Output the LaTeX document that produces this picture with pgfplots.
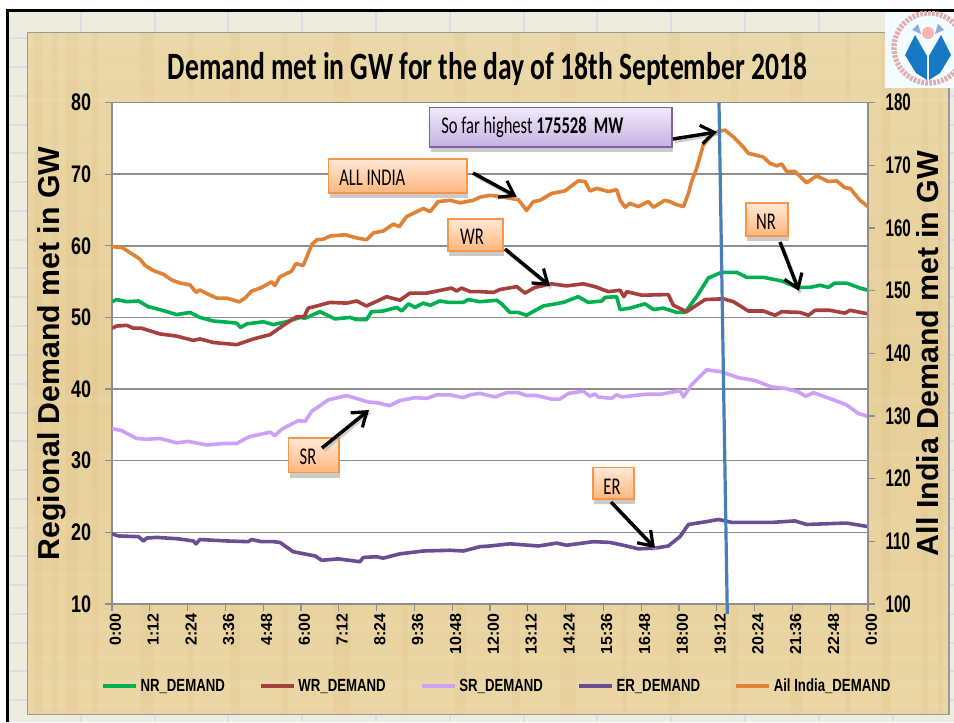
\documentclass[border=0pt]{standalone}
\usepackage{pgfplots}
\pgfplotsset{compat=1.18}
\usepackage{fontspec}
\usetikzlibrary{arrows.meta}
\setmainfont{Liberation Sans}
\newfontfamily\nb[FakeStretch=0.75]{Liberation Sans}
\newfontfamily\nbr[FakeStretch=0.63]{Liberation Sans}
\newfontfamily\cb[FakeStretch=0.714]{Carlito}
\newfontfamily\cc[FakeStretch=0.69]{Carlito}
\definecolor{parch}{HTML}{E8D29C}
\definecolor{sheet}{HTML}{EEEBDF}
\definecolor{sheetline}{HTML}{DCDDE6}
\definecolor{axgray}{HTML}{8E8E8E}
\definecolor{cNR}{HTML}{00B050}
\definecolor{cWR}{HTML}{A5403D}
\definecolor{cSR}{HTML}{CBA0F8}
\definecolor{cER}{HTML}{6A4E94}
\definecolor{cIN}{HTML}{DF8235}
\definecolor{oTop}{HTML}{FFE8D6}
\definecolor{oBot}{HTML}{FFB67C}
\definecolor{oEdge}{HTML}{F79646}
\definecolor{pTop}{HTML}{F1EAFA}
\definecolor{pBot}{HTML}{C6B0E2}
\definecolor{pEdge}{HTML}{8064A2}
\definecolor{vline}{HTML}{4A7EBB}
\pgfplotstableread{
h v
0 52.2
.15 52.5
.47 52.2
.84 52.3
1.15 51.5
1.52 51.1
2.05 50.4
2.48 50.7
2.79 50.0
3.22 49.5
3.75 49.3
3.96 49.2
4.08 48.6
4.28 49.1
4.80 49.4
5.12 49.0
5.54 49.4
5.97 50.0
6.13 49.9
6.60 50.8
7.08 49.8
7.56 50.0
7.77 49.7
8.08 49.7
8.24 50.8
8.61 50.9
9.04 51.4
9.20 50.9
9.41 51.9
9.62 51.4
9.88 52.0
10.10 51.7
10.41 52.3
10.68 52.1
11.15 52.1
11.31 52.5
11.68 52.2
12.21 52.4
12.37 51.9
12.63 50.7
12.90 50.7
13.16 50.3
13.69 51.6
14.33 52.1
14.80 52.9
15.12 52.1
15.55 52.3
15.65 52.8
16.02 52.9
16.13 51.1
16.44 51.3
16.92 51.9
17.19 51.1
17.50 51.3
17.93 50.7
18.19 50.7
18.56 52.9
18.93 55.5
19.35 56.3
19.83 56.3
20.15 55.6
20.68 55.6
21.26 55.1
21.74 54.2
22.16 54.2
22.48 54.5
22.74 54.2
22.95 54.8
23.32 54.8
23.75 54.1
24 53.8
}\tNR
\pgfplotstableread{
h v
0 48.5
.15 48.8
.47 48.9
.68 48.5
.94 48.5
1.52 47.7
2.05 47.4
2.58 46.8
2.79 47.0
3.22 46.5
3.96 46.2
4.49 47.0
5.02 47.6
5.44 48.9
5.86 50.1
6.10 50.1
6.23 51.3
6.50 51.6
6.92 52.1
7.45 52.0
7.77 52.3
8.08 51.6
8.72 52.9
9.14 52.4
9.46 53.4
9.99 53.4
10.78 54.1
10.94 53.7
11.10 54.1
11.37 53.6
11.68 53.6
12.11 53.5
12.32 53.9
12.85 54.3
13.11 53.4
13.43 54.2
13.96 54.7
14.43 54.4
14.96 54.7
15.33 54.3
15.76 53.6
16.13 53.8
16.25 52.9
16.34 53.6
16.82 53.1
17.66 53.2
17.82 51.7
18.24 50.8
18.83 52.5
19.41 52.6
19.73 52.2
20.20 50.9
20.68 50.9
21.05 50.3
21.26 50.8
21.84 50.7
22.11 50.3
22.32 51.0
22.79 51.0
23.27 50.6
23.43 51.0
24 50.5
}\tWR
\pgfplotstableread{
h v
0 34.5
.31 34.2
.78 33.1
1.10 33.0
1.52 33.1
2.05 32.5
2.42 32.7
3.0 32.2
3.53 32.4
3.96 32.4
4.33 33.3
5.02 34.0
5.17 33.5
5.39 34.4
5.91 35.6
6.13 35.5
6.34 36.9
6.87 38.5
7.45 39.1
8.13 38.2
8.40 38.1
8.82 37.7
9.14 38.4
9.62 38.8
9.99 38.7
10.31 39.2
10.73 39.2
11.15 38.8
11.37 39.2
11.68 39.4
12.16 38.9
12.53 39.5
12.90 39.5
13.16 39.1
13.48 39.1
13.96 38.6
14.22 38.6
14.49 39.4
14.96 39.7
15.17 39.0
15.33 39.3
15.44 38.9
15.86 38.7
16.02 39.2
16.18 38.9
16.98 39.3
17.45 39.3
18.03 39.8
18.14 38.9
18.40 40.6
18.88 42.7
19.35 42.4
19.88 41.6
20.41 41.2
20.94 40.3
21.37 40.1
21.79 39.6
22.03 39.0
22.27 39.5
22.90 38.5
23.32 37.8
23.69 36.6
24 36.2
}\tSR
\pgfplotstableread{
h v
0 19.8
.2 19.5
.84 19.4
1.0 18.8
1.10 19.2
1.42 19.3
2.1 19.1
2.58 18.8
2.67 18.4
2.79 19.0
3.64 18.8
4.33 18.7
4.43 19.0
4.75 18.7
5.12 18.7
5.33 18.6
5.75 17.3
6.45 16.7
6.66 16.1
7.19 16.3
7.87 15.9
7.98 16.5
8.40 16.6
8.61 16.4
9.14 17.0
9.88 17.4
10.73 17.5
11.15 17.4
11.68 18.0
12.0 18.1
12.63 18.4
13.54 18.1
14.12 18.5
14.43 18.2
15.28 18.7
15.81 18.6
16.23 18.2
16.71 17.7
17.24 17.8
17.66 18.1
18.03 19.4
18.30 21.1
18.88 21.5
19.25 21.8
19.67 21.4
20.99 21.4
21.68 21.6
22.05 21.1
22.68 21.2
23.32 21.3
24 20.8
}\tER
\pgfplotstableread{
h v
0 157.0
.31 156.9
.62 155.9
.89 155.0
1.05 154.0
1.31 153.2
1.63 152.6
1.89 151.7
2.16 151.2
2.48 150.9
2.67 149.7
2.79 150.1
3.06 149.4
3.32 148.8
3.64 148.8
4.04 148.2
4.22 148.8
4.43 149.9
4.75 150.5
5.07 151.4
5.17 150.8
5.33 152.2
5.70 153.1
5.84 154.3
6.07 154.0
6.34 157.3
6.50 158.1
6.71 158.2
6.92 158.7
7.40 158.9
7.77 158.4
8.08 158.1
8.30 159.2
8.61 159.5
8.93 160.6
9.12 160.2
9.35 161.8
9.88 163.1
10.10 162.6
10.36 164.2
10.73 164.4
11.05 164.0
11.47 164.4
11.68 164.9
12.00 165.2
12.32 165.0
12.90 164.5
13.16 162.8
13.38 164.2
13.59 164.4
13.96 165.5
14.38 165.9
14.80 167.5
15.02 167.4
15.17 165.9
15.39 166.3
15.76 165.8
16.02 166.1
16.13 164.4
16.29 163.3
16.44 163.9
16.71 163.4
17.02 164.2
17.19 163.3
17.55 164.4
17.71 164.2
17.87 163.8
18.14 163.4
18.30 165.5
18.40 167.4
18.56 169.5
18.77 173.2
19.04 174.8
19.25 175.4
19.46 175.6
19.73 174.5
20.04 172.9
20.20 171.9
20.68 171.3
20.89 170.3
21.10 169.9
21.26 170.2
21.42 169.0
21.68 169.0
22.05 167.2
22.37 168.3
22.74 167.4
23.01 167.5
23.27 166.4
23.43 166.3
23.75 164.4
24 163.4
}\tIN
\newcommand{\callout}[6]{%
  \fill[gray!55,opacity=.75] (#1+1,#2+6) rectangle (#3+1,#4+5.5);
  \shade[top color=#5,bottom color=#6,draw=\edgecol,line width=.9pt] (#1,#2) rectangle (#3,#4);
}
\newcommand{\arr}[4]{%
  \draw[gray!60,opacity=.6,line width=2.6pt] (#1+2,#2+2.5) -- (#3+1,#4+2);
  \draw[black,line width=2.6pt,-{Straight Barb[length=10pt,width=14pt,line width=2.4pt]}] (#1,#2) -- (#3,#4);
}
\begin{document}
\begin{tikzpicture}
\begin{scope}[x=.75pt,y=-.75pt,yshift=541.5pt]
\path[use as bounding box] (0,0) rectangle (954,722);
\fill[white] (0,0) rectangle (954,722);
\fill[sheet] (8,12) rectangle (954,722);
\foreach \gx in {81,155,228,302,376,450,524,597,671,745,819,893}
  \draw[sheetline,line width=1pt] (\gx,12) -- (\gx,722);
\foreach \gy in {38,67,96,125,153,182,211,240,268,297,326,355,384,413,441,470,499,528,556,585,614,643,671,700}
  \draw[sheetline,line width=1pt] (8,\gy) -- (954,\gy);
\draw[black,line width=2.2pt] (7.5,722) -- (7.5,10.5) -- (954,10.5);
\shade[top color=parch!88!white,bottom color=parch!92!white,middle color=parch!96!brown] (27.5,32.5) rectangle (949,714.5);
% parchment streaks
\foreach \sx/\sw in {34/9,52/5,66/12,92/6,140/14,188/5,230/10,281/7,333/18,402/6,455/11,512/8,560/16,622/5,668/12,731/7,790/13,845/6,881/10,921/7,938/5}
  \fill[brown!70!orange,opacity=.05] (\sx,32.5) rectangle (\sx+\sw,714.5);
\foreach \sy/\sw in {41/6,70/11,98/4,145/9,210/7,268/12,330/5,395/10,452/6,517/13,573/5,622/9,655/6,681/8,703/5}
  \fill[white,opacity=.05] (27.5,\sy) rectangle (949,\sy+\sw);
\draw[axgray!90,line width=.9pt] (27.5,32.5) rectangle (949,714.5);
% logo
\begin{scope}
\clip (885,12) rectangle (954,88.5);
\fill[white!95!cyan] (885,12) rectangle (954,88.5);
\draw[red!40!gray!45,line width=4pt,dash pattern=on 2pt off 1pt] (929,48) circle (35);
\fill[blue!45!cyan!75!black!90] (915,35) -- (905,55) -- (916,73) -- (927,80) -- (927,56) -- cycle;
\fill[blue!45!cyan!75!black!90] (941,35) -- (951,55) -- (940,73) -- (929,80) -- (929,56) -- cycle;
\fill[red!30] (928,33) circle (6);
\fill[cyan!50!blue!45] (912,30) -- (918,24) -- (921,34) -- cycle;
\fill[cyan!50!blue!45] (944,30) -- (938,24) -- (935,34) -- cycle;
\end{scope}
\end{scope}

\begin{axis}[
  at={(84pt,88.5pt)},anchor=south west,
  scale only axis,width=567pt,height=376.1pt,
  xmin=0,xmax=24,ymin=10,ymax=80,
  axis background/.style={fill=white},
  axis line style={draw=axgray,line width=1.1pt},
  axis x line*=bottom,axis y line*=left,
  ytick={10,20,...,80},
  xtick={0,1.2,2.4,3.6,4.8,6,7.2,8.4,9.6,10.8,12,13.2,14.4,15.6,16.8,18,19.2,20.4,21.6,22.8,24},
  xticklabels={0:00,1:12,2:24,3:36,4:48,6:00,7:12,8:24,9:36,10:48,12:00,13:12,14:24,15:36,16:48,18:00,19:12,20:24,21:36,22:48,0:00},
  tick align=outside,major tick length=5pt,
  tick style={draw=axgray,line width=1pt},
  ymajorgrids,
  grid style={draw=axgray,line width=1.1pt},
  /pgf/number format/assume math mode=true,
  yticklabel style={font=\nb\bfseries\fontsize{18}{18}\selectfont,inner sep=2pt,xshift=-8.5pt},
  xticklabel style={rotate=90,anchor=east,font=\fontsize{12}{12}\selectfont\bfseries,inner sep=2pt,yshift=-2.5pt},
  ylabel={Regional Demand met in GW},
  every axis y label/.style={at={(axis description cs:-0.0694,0.4995)},rotate=90,anchor=base,font=\fontsize{22.7}{24}\selectfont\bfseries},
  title={Demand met in GW for the day of 18th September 2018},
  every axis title/.style={at={(axis description cs:0.4967,1.0463)},anchor=base,font=\cb\bfseries\fontsize{29}{30}\selectfont},
  legend style={at={(axis description cs:-0.0146,-0.1635)},anchor=west,draw=none,fill=none,inner sep=0pt,outer sep=0pt,
    font=\nb\bfseries\fontsize{13.2}{14}\selectfont,legend columns=5,
    /tikz/every even column/.append style={column sep=23.5pt,nodes={xshift=-1.5pt}}},
  legend cell align=left,
  legend image code/.code={\draw[#1,line width=3.2pt] (0pt,0pt) -- (24.5pt,0pt);},
]
\addplot[cNR,line width=2.7pt,line join=round] table[x=h,y=v] {\tNR};
\addlegendentry{NR\_DEMAND}
\addplot[cWR,line width=2.7pt,line join=round] table[x=h,y=v] {\tWR};
\addlegendentry{WR\_DEMAND}
\addplot[cSR,line width=2.7pt,line join=round] table[x=h,y=v] {\tSR};
\addlegendentry{SR\_DEMAND}
\addplot[cER,line width=2.7pt,line join=round] table[x=h,y=v] {\tER};
\addlegendentry{ER\_DEMAND}
\addlegendimage{cIN,line width=2.7pt}
\addlegendentry{Ail India\_DEMAND}
\end{axis}

\begin{axis}[
  at={(84pt,88.5pt)},anchor=south west,
  scale only axis,width=567pt,height=376.1pt,
  xmin=0,xmax=24,ymin=100,ymax=180,
  axis x line=none,axis y line*=right,
  axis line style={draw=axgray,line width=1.1pt},
  ytick={100,110,...,180},
  tick align=outside,major tick length=5pt,
  tick style={draw=axgray,line width=1pt},
  /pgf/number format/assume math mode=true,
  yticklabel style={font=\nbr\bfseries\fontsize{18}{18}\selectfont,inner sep=2pt,xshift=6pt},
  ylabel={All India Demand met in GW},
  every axis y label/.style={at={(axis description cs:1.0926,0.4995)},rotate=90,anchor=base,font=\fontsize{22.8}{24}\selectfont\bfseries},
]
\addplot[cIN,line width=2.7pt,line join=round] table[x=h,y=v] {\tIN};
\end{axis}

\begin{scope}[x=.75pt,y=-.75pt,yshift=541.5pt]
\draw[vline,line width=2.4pt] (719,102.5) -- (727.3,614);
\def\edgecol{pEdge}
\callout{429.5}{107.5}{672}{147}{pTop}{pBot}
\def\edgecol{oEdge}
\callout{328.5}{159}{467}{193}{oTop}{oBot}
\callout{448}{219}{503}{251}{oTop}{oBot}
\callout{746}{203}{788}{236}{oTop}{oBot}
\callout{288.5}{438}{339}{472.5}{oTop}{oBot}
\callout{593}{467.5}{634}{499}{oTop}{oBot}
\node[anchor=base west,inner sep=0,font=\cc\fontsize{18}{18}\selectfont] at (441,134) {So far highest \textbf{175528\hspace{2.5pt} MW}};
\node[anchor=base west,inner sep=0,font=\cc\fontsize{18}{18}\selectfont] at (339,186) {ALL INDIA};
\node[anchor=base,inner sep=0,font=\cc\fontsize{18}{18}\selectfont] at (472,245) {WR};
\node[anchor=base,inner sep=0,font=\cc\fontsize{18}{18}\selectfont] at (766,230) {NR};
\node[anchor=base,inner sep=0,font=\cc\fontsize{18}{18}\selectfont] at (308,465) {SR};
\node[anchor=base,inner sep=0,font=\cc\fontsize{18}{18}\selectfont] at (612,495) {ER};
\arr{473}{173}{516.7}{196.7}
\arr{505}{249}{550}{286}
\arr{780}{242}{799}{291}
\arr{322}{448}{369}{410}
\arr{611}{502}{655}{548}
\arr{673}{139}{717}{132}
\end{scope}
\end{tikzpicture}
\end{document}
